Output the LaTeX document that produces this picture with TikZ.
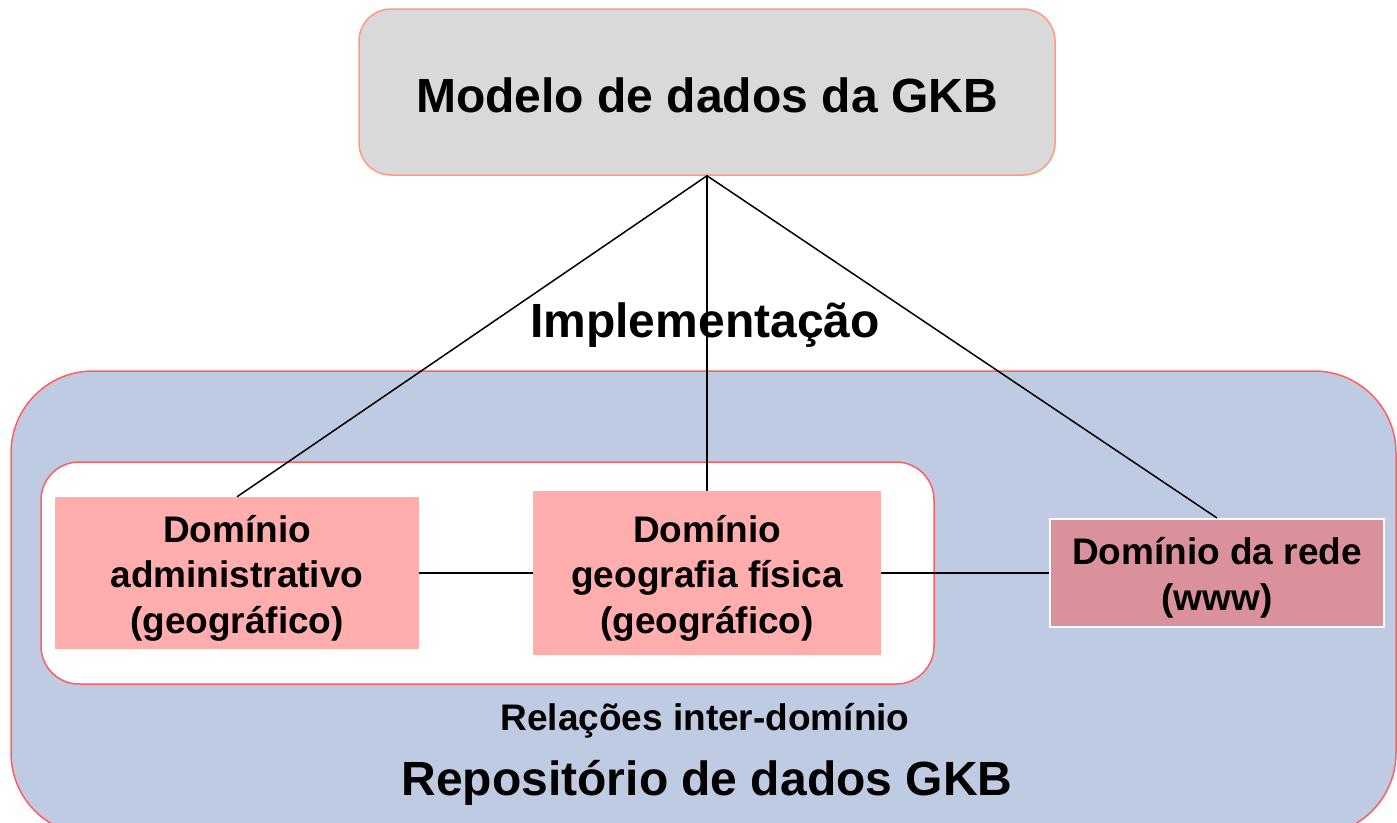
\documentclass[tikz,border=0pt]{standalone}
\usepackage{fontspec}
\setmainfont{Liberation Sans}
\definecolor{topfill}{HTML}{D9D9D9}
\definecolor{topdraw}{HTML}{FF9980}
\definecolor{bluefill}{HTML}{BFCBE3}
\definecolor{reddraw}{HTML}{FF5F5F}
\definecolor{pinkfill}{HTML}{FFADAD}
\definecolor{rosefill}{HTML}{DA919B}
\tikzset{
  bigtext/.style={font=\bfseries\fontsize{48}{52}\selectfont, inner sep=0pt},
  midtext/.style={font=\bfseries\fontsize{37}{40}\selectfont, inner sep=0pt},
  domtext/.style={font=\bfseries\fontsize{37}{45.5}\selectfont, align=center, inner sep=0pt},
  pinkbox/.style={fill=pinkfill, draw=none, inner sep=0pt},
  rosebox/.style={fill=rosefill, draw=white, line width=2pt, inner sep=0pt},
  container/.style={inner sep=0pt, draw=reddraw, line width=1.5pt},
  conn/.style={draw=black, line width=1.5pt},
}
\begin{document}
\begin{tikzpicture}[x=1pt,y=-1pt]
\useasboundingbox (0,0) rectangle (1397,822);
\clip (0,0) rectangle (1397,822);
\fill[white] (0,0) rectangle (1397,822);
% containers
\node[container, fill=bluefill, rounded corners=82pt, minimum width=1385pt, minimum height=464pt] (repo) at (703.5,603) {};
\node[container, fill=white, rounded corners=38pt, minimum width=893pt, minimum height=222pt] (inner) at (487.5,573) {};
\node[inner sep=0pt, fill=topfill, draw=topdraw, line width=1.5pt, rounded corners=32pt, minimum width=696pt, minimum height=166pt] (model) at (707,92) {};
% domain boxes
\node[pinkbox, minimum width=364pt, minimum height=152pt] (adm) at (237,573) {};
\node[pinkbox, minimum width=348pt, minimum height=164pt] (geo) at (707,573) {};
\node[rosebox, minimum width=334pt, minimum height=108pt] (www) at (1217,573) {};
\node[domtext] (admtext) at ([yshift=-5pt]adm.center) {Domínio\\administrativo\\(geográfico)};
\node[domtext] (geotext) at ([yshift=-5pt]geo.center) {Domínio\\geografia física\\(geográfico)};
\node[domtext] (wwwtext) at ([yshift=-5pt]www.center) {Domínio da rede\\(www)};
% texts
\node[bigtext, anchor=base] (title) at (707,112) {Modelo de dados da GKB};
\node[bigtext, anchor=base] (impl) at (705,337) {Implementação};
\node[midtext, anchor=base] (rel) at (705,730) {Relações inter-domínio};
\node[bigtext, anchor=base] (repotitle) at (707,795) {Repositório de dados GKB};
% connectors
\draw[conn] (model.south) -- (adm.north);
\draw[conn] (model.south) -- (geo.north);
\draw[conn] (model.south) -- (www.north);
\draw[conn] (adm.east) -- (geo.west);
\draw[conn] (geo.east) -- (www.west);
\end{tikzpicture}
\end{document}
